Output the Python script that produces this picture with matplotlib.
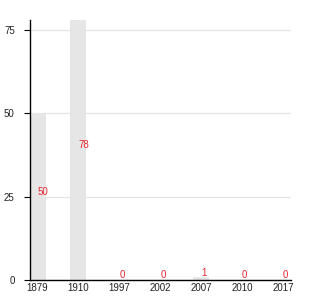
import matplotlib
matplotlib.use("Agg")
import matplotlib.pyplot as plt

years = ["1879", "1910", "1997", "2002", "2007", "2010", "2017"]
counts = [50, 78, 0, 0, 1, 0, 0]

BAR = "#e6e6e6"
RED = "#e8262f"
GRID = "#e4e4e4"

plt.rcParams["font.family"] = ["Liberation Sans", "DejaVu Sans"]

fig = plt.figure(figsize=(3.3, 3.0), dpi=100)
ax = fig.add_axes([0.091, 0.067, 0.791, 0.866])

pos = list(range(len(years)))
ax.bar(pos, counts, width=0.4, color=BAR, zorder=2)

# value labels sit halfway up each bar
for x, v in zip(pos, counts):
    ax.text(x, v / 2, str(v), color=RED, fontsize=7, ha="left", va="bottom",
            zorder=3)

ax.set_xlim(-0.18, 6.2)
ax.set_ylim(0, 78)
ax.set_yticks([0, 25, 50, 75])
ax.set_xticks(pos)
ax.set_xticklabels(years)
ax.tick_params(axis="x", length=0, pad=2, labelsize=7, labelcolor="#222222")
ax.tick_params(axis="y", length=4, width=0.8, pad=7, labelsize=7,
               labelcolor="#222222", color="black")
ax.yaxis.grid(True, color=GRID, linewidth=0.9, zorder=1)
ax.set_axisbelow(True)

for s in ["top", "right"]:
    ax.spines[s].set_visible(False)
ax.spines["left"].set_linewidth(1.0)
ax.spines["bottom"].set_linewidth(1.0)

fig.savefig("out.png", dpi=100, facecolor="white")
